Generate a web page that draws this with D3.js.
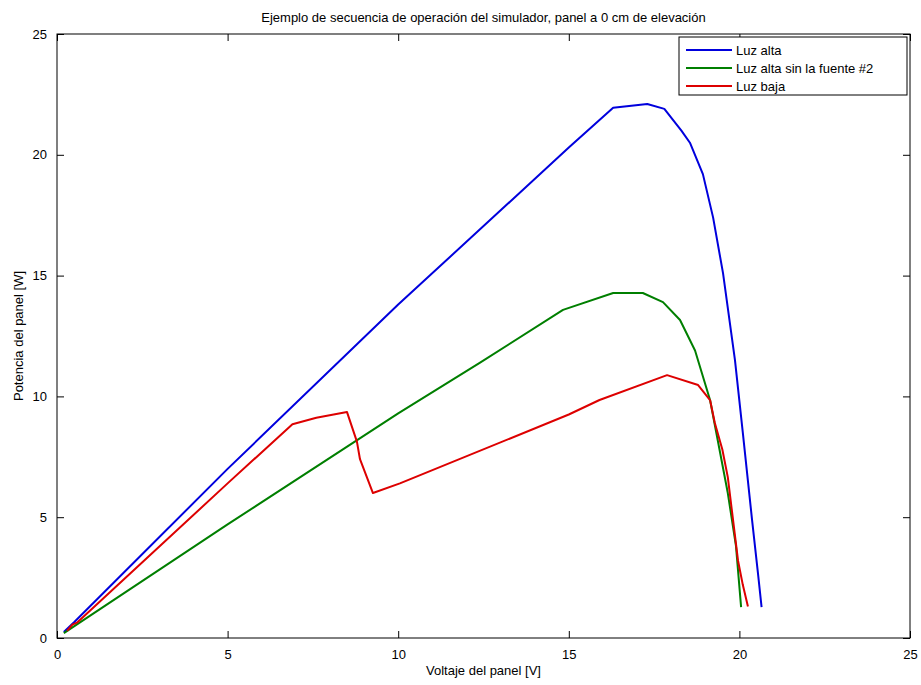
<!DOCTYPE html>
<html><head><meta charset="utf-8">
<script src="https://cdn.jsdelivr.net/npm/d3@7"></script>
<style>body{margin:0;background:#fff}svg{display:block}text{font-family:"Liberation Sans",Arial,sans-serif}</style>
</head><body><svg id="c" width="921" height="685"></svg>
<script>
const title = "Ejemplo de secuencia de operación del simulador, panel a 0 cm de elevación";
const xLabel = "Voltaje del panel [V]";
const yLabel = "Potencia del panel [W]";
const xTicks = [0,5,10,15,20,25];
const yTicks = [0,5,10,15,20,25];
const seriesNames = ["Luz alta","Luz alta sin la fuente #2","Luz baja"];
const seriesColors = ["#0000dd","#007f00","#dd0000"];
const luzAlta = [[0.2,0.25],[0.5,0.65],[5,7.0],[10,13.8],[15,20.3],[16.3,21.95],[17.3,22.1],[17.8,21.9],[18.3,21.0],[18.55,20.5],[18.93,19.2],[19.23,17.4],[19.52,15.1],[19.87,11.5],[20.1,8.5],[20.37,4.9],[20.55,2.6],[20.65,1.28]];
const luzAltaSinFuente = [[0.2,0.2],[5,4.7],[10,9.3],[12.4,11.4],[14.83,13.58],[16.3,14.28],[17.17,14.28],[17.76,13.9],[18.26,13.16],[18.7,11.9],[19.14,9.85],[19.66,6.0],[19.9,3.8],[20.05,1.28]];
const luzBaja = [[0.3,0.3],[0.45,0.55],[0.6,0.65],[5,6.4],[6.9,8.85],[7.6,9.12],[8.5,9.35],[8.79,8.13],[8.88,7.4],[9.26,6.0],[10.05,6.4],[15,9.25],[15.9,9.85],[17.88,10.88],[18.79,10.47],[19.14,9.85],[19.28,8.9],[19.5,7.8],[19.66,6.66],[19.96,3.2],[20.1,2.2],[20.25,1.3]];
const series = [luzAlta, luzAltaSinFuente, luzBaja];

const svg = d3.select("#c");
const L=57, R=910, T=34, B=638;
const x = d3.scaleLinear().domain([0,25]).range([L,R]);
const y = d3.scaleLinear().domain([0,25]).range([B,T]);

svg.append("rect").attr("x",L).attr("y",T).attr("width",R-L).attr("height",B-T).attr("fill","#fff");

const tl = 7;
const fmt = d3.format("d");
const gx = svg.append("g").attr("transform",`translate(0,${B})`)
  .call(d3.axisBottom(x).tickValues(xTicks).tickFormat(fmt).tickSizeInner(-tl).tickSizeOuter(0).tickPadding(12));
const gxt = svg.append("g").attr("transform",`translate(0,${T})`)
  .call(d3.axisTop(x).tickValues(xTicks).tickFormat("").tickSizeInner(-tl).tickSizeOuter(0));
const gy = svg.append("g").attr("transform",`translate(${L},0)`)
  .call(d3.axisLeft(y).tickValues(yTicks).tickFormat(fmt).tickSizeInner(-tl).tickSizeOuter(0).tickPadding(10));
const gyr = svg.append("g").attr("transform",`translate(${R},0)`)
  .call(d3.axisRight(y).tickValues(yTicks).tickFormat("").tickSizeInner(-tl).tickSizeOuter(0));
[gx,gxt,gy,gyr].forEach(g=>{
  g.select(".domain").remove();
  g.selectAll("line").attr("stroke","#000");
  g.selectAll("text").attr("font-size",13).attr("fill","#000").attr("font-family","'Liberation Sans',Arial,sans-serif");
});
svg.append("rect").attr("x",L).attr("y",T).attr("width",R-L).attr("height",B-T).attr("fill","none").attr("stroke","#000").attr("stroke-width",1);

const line = d3.line().x(d=>x(d[0])).y(d=>y(d[1]));
series.forEach((s,i)=>{
  svg.append("path").datum(s).attr("d",line).attr("fill","none")
    .attr("stroke",seriesColors[i]).attr("stroke-width",2).attr("stroke-linejoin","round");
});

// legend
const lg = svg.append("g");
lg.append("rect").attr("x",679).attr("y",37).attr("width",228).attr("height",58).attr("fill","#fff").attr("stroke","#000");
seriesNames.forEach((n,i)=>{
  const yy = 50 + i*18;
  lg.append("line").attr("x1",686).attr("x2",732).attr("y1",yy).attr("y2",yy).attr("stroke",seriesColors[i]).attr("stroke-width",2);
  lg.append("text").attr("x",736).attr("y",yy+4.5).attr("font-size",13).text(n);
});

svg.append("text").attr("x",(L+R)/2).attr("y",22).attr("text-anchor","middle").attr("font-size",13).text(title);
svg.append("text").attr("x",(L+R)/2).attr("y",675).attr("text-anchor","middle").attr("font-size",13).text(xLabel);
svg.append("text").attr("transform",`translate(23,${(T+B)/2}) rotate(-90)`).attr("text-anchor","middle").attr("font-size",13).text(yLabel);
</script></body></html>
